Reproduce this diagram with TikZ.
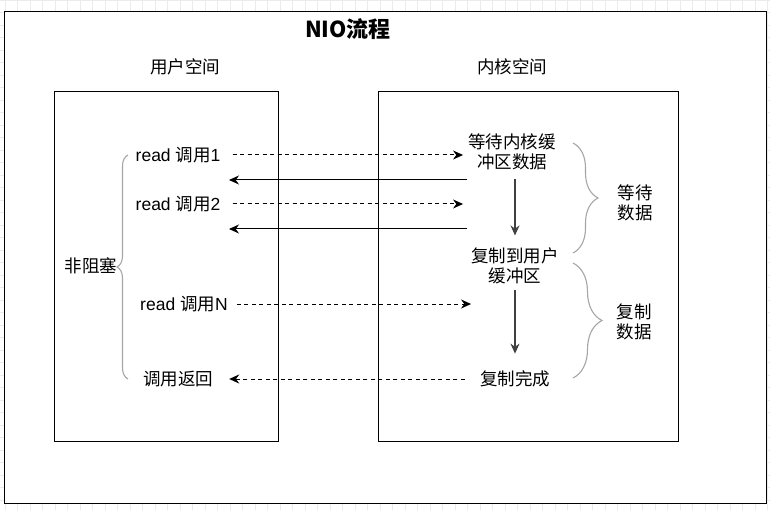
\documentclass[tikz,border=0pt]{standalone}
\usepackage{fontspec}
\setmainfont{Liberation Sans}
\newfontfamily\cjk{Noto Sans CJK SC}
\usetikzlibrary{arrows.meta,decorations.pathreplacing}

\newcommand\zh[1]{{\cjk #1}}

\begin{document}
\begin{tikzpicture}[x=1pt,y=-1pt,
    txt/.style={font=\fontsize{17.5}{20.5}\selectfont, align=center, inner sep=0pt},
    zhtxt/.style={txt, font=\fontsize{17.5}{20.5}\selectfont\cjk},
    box/.style={draw=black, line width=1pt},
    dasharrow/.style={dash pattern=on 4pt off 3.5pt, line width=1pt, -{Stealth[length=10pt,width=9pt]}},
    solidarrow/.style={line width=1pt, -{Stealth[length=10pt,width=9pt]}},
    downarrow/.style={draw=black!75, line width=1.2pt, -{Stealth[length=10pt,width=9pt]}},
    curly/.style={draw=black!35, line width=1.1pt, decorate, decoration={brace, amplitude=#1}}
  ]
	    % background and frames
	    \useasboundingbox (0,0) rectangle (770,510);
	    \draw[black!8, step=12.5pt, xshift=4.8pt] (-4.8pt,-510pt) grid (770pt,0pt);
	    \draw[box, fill=white] (4,12) rectangle (766,503);
	    \draw[box] (54,92) rectangle (278,441);
	    \draw[box] (378,92) rectangle (678,441);

	    % titles
	    \node[font=\fontsize{22}{24}\selectfont\cjk\bfseries, inner sep=0pt] (title) at (348,29) {NIO流程};
	    \node[zhtxt] (user) at (185,67) {用户空间};
	    \node[zhtxt] (kernel) at (512,67) {内核空间};

	    % user side
	    \node[txt] (read1) at (178,155) {read \zh{调用}1};
	    \node[txt] (read2) at (178,204) {read \zh{调用}2};
	    \node[txt] (readN) at (184,304) {read \zh{调用}N};
	    \node[zhtxt] (ret) at (178,379) {调用返回};
	    \node[zhtxt] (nonblock) at (91,266) {非阻塞};

	    % kernel side
	    \node[zhtxt] (wait) at (512,152) {等待内核缓\\冲区数据};
	    \node[zhtxt] (copy) at (515,266) {复制到用户\\缓冲区};
	    \node[zhtxt] (done) at (515,379) {复制完成};
	    \node[zhtxt] (waitdata) at (635,203) {等待\\数据};
	    \node[zhtxt] (copydata) at (634,322) {复制\\数据};

	    \coordinate (back1) at (467,180);
	    \coordinate (back1end) at (229,180);
	    \coordinate (back2) at (467,229);
	    \coordinate (back2end) at (229,229);

	    % calls and replies
	    \draw[dasharrow, shorten <=12pt, shorten >=5pt] (read1.east) -- (read1.east -| wait.west);
	    \draw[dasharrow, shorten <=12pt, shorten >=5pt] (read2.east) -- (read2.east -| wait.west);
	    \draw[dasharrow, shorten <=9pt] (readN.east) -- (readN.east -| copy.west);
	    \draw[dasharrow, shorten <=15pt, shorten >=16pt] (done.west) -- (done.west -| ret.east);
	    \draw[solidarrow] (back1) -- (back1end);
	    \draw[solidarrow] (back2) -- (back2end);

	    % kernel steps
	    \draw[downarrow, shorten <=8pt, shorten >=12pt] (wait.south -| copy) -- (copy.north);
	    \draw[downarrow, shorten <=5pt, shorten >=17pt] (copy.south) -- (done.north);

	    % braces
	    \draw[curly=11pt] (128,379) -- (128,155);
	    \draw[curly=25pt] (573,143) -- (573,253);
	    \draw[curly=29pt] (573,263) -- (573,378);
	\end{tikzpicture}
\end{document}
